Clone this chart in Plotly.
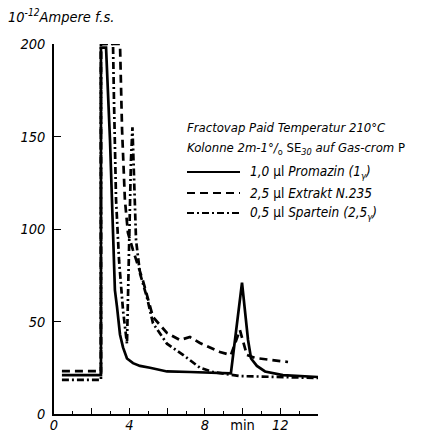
import plotly.graph_objects as go

# ---- data (time in min, signal in 10^-12 A) ----
promazin_t = [0.42, 2.49, 2.49, 2.76, 2.97, 3.13, 3.23, 3.34, 3.50, 3.66, 3.87, 4.19, 4.56, 5.09, 5.99, 7.21, 8.80, 9.38, 9.97, 10.29, 10.45, 10.76, 11.19, 12.14, 14.0]
promazin_y = [21, 21, 198, 198, 148, 94, 67, 58, 43, 36, 30, 27.5, 26, 25, 23, 22.7, 22.2, 22, 71, 40, 30, 26, 23, 21, 20]

extrakt_t = [0.42, 2.49, 2.49, 3.50, 3.61, 3.76, 3.92, 4.19, 4.72, 5.25, 5.99, 6.68, 7.21, 7.74, 8.80, 9.38, 9.86, 10.23, 10.66, 12.41]
extrakt_y = [23.2, 23.2, 200, 200, 153.5, 115.7, 98, 88.6, 72, 52.4, 43.8, 40, 41.6, 38.4, 33.5, 31.9, 45.4, 31.9, 30.3, 28.1]

spartein_t = [0.42, 2.49, 2.49, 3.13, 3.18, 3.29, 3.45, 3.66, 3.87, 3.98, 4.08, 4.16, 4.24, 4.35, 4.56, 4.93, 5.25, 5.99, 6.84, 7.74, 8.43, 9.86, 14.0]
spartein_y = [18.4, 18.4, 200, 200, 170, 116, 83, 56, 38, 89, 137, 155, 126, 94, 76, 63, 49, 38, 32, 25, 22.7, 20.5, 19.5]

x_tickvals = [0, 2, 4, 6, 8, 10, 12, 14]
x_ticktext = ["0", "", "4", "", "8", "<span style='font-style:normal'>min</span>", "12", ""]
y_tickvals = [0, 50, 100, 150, 200]
y_ticktext = ["0", "50", "100", "150", "200"]

legend_labels = ["<i>1,0</i> µl <i>Promazin (1<sub>γ</sub>)</i>",
                 "<i>2,5</i> µl <i>Extrakt N.235</i>",
                 "<i>0,5</i> µl <i>Spartein (2,5<sub>γ</sub>)</i>"]
legend_dash = ["solid", "8px,5px", "7px,3px,2px,3px"]

FONT = "DejaVu Sans Condensed, DejaVu Sans, sans-serif"

fig = go.Figure()
for t, y, d in [(promazin_t, promazin_y, "solid"),
                (extrakt_t, extrakt_y, "8px,5px"),
                (spartein_t, spartein_y, "7px,3px,2px,3px")]:
    fig.add_trace(go.Scatter(x=t, y=y, mode="lines", showlegend=False,
                             line=dict(color="black", width=2.7, dash=d),
                             cliponaxis=False))

W, H = 432, 434
OFF = 8  # page body margin
PL, PR, PT, PB = 54, 318, 44, 414  # plot area in page pixels
pw, ph = PR - PL, PB - PT
L, T = PL - OFF, PT - OFF
R, B = W - L - pw, H - T - ph

def px(xp):
    return (xp - PL) / pw

def py(yp):
    return (PB - yp) / ph

shapes = []
annotations = []
ys = [172, 193, 213]
for i, (lab, d) in enumerate(zip(legend_labels, legend_dash)):
    shapes.append(dict(type="line", xref="paper", yref="paper",
                       x0=px(187), x1=px(240), y0=py(ys[i]), y1=py(ys[i]),
                       line=dict(color="black", width=2.2, dash=d)))
    annotations.append(dict(xref="paper", yref="paper", x=px(248), y=py(ys[i]),
                            xanchor="left", yanchor="middle", showarrow=False,
                            text=lab, font=dict(family=FONT, size=13.5, color="black")))

annotations.append(dict(xref="paper", yref="paper", x=px(185), y=py(127),
                        xanchor="left", yanchor="middle", showarrow=False,
                        text="<i>Fractovap Paid Temperatur 210°C</i>",
                        font=dict(family=FONT, size=13, color="black")))
annotations.append(dict(xref="paper", yref="paper", x=px(185), y=py(148),
                        xanchor="left", yanchor="middle", showarrow=False,
                        text="<i>Kolonne 2m-1°/</i><sub>o</sub> SE<sub><i>30</i></sub><i> auf Gas-crom</i> P",
                        font=dict(family=FONT, size=13, color="black")))
annotations.append(dict(xref="paper", yref="paper", x=px(6), y=py(16),
                        xanchor="left", yanchor="middle", showarrow=False,
                        text="<i>10<sup>-12</sup>Ampere f.s.</i>",
                        font=dict(family=FONT, size=14.5, color="black")))

fig.update_layout(
    width=W, height=H,
    margin=dict(l=L, r=R, t=T, b=B, pad=0, autoexpand=False),
    paper_bgcolor="white", plot_bgcolor="white",
    shapes=shapes, annotations=annotations,
    xaxis=dict(range=[0, 14], showgrid=False, zeroline=False, automargin=False,
               showline=True, linecolor="black", linewidth=1.6,
               ticks="inside", ticklen=6, tickwidth=1.4, tickcolor="black",
               tickvals=x_tickvals, ticktext=x_ticktext, ticklabelstandoff=-3,
               minor=dict(ticks="inside", ticklen=3, tickwidth=1, tickcolor="black", dtick=1, showgrid=False),
               tickfont=dict(family=FONT, size=14.5, color="black", style="italic")),
    yaxis=dict(range=[0, 200], showgrid=False, zeroline=False, automargin=False,
               showline=True, linecolor="black", linewidth=1.6,
               ticks="inside", ticklen=7, tickwidth=1.4, tickcolor="black",
               tickvals=y_tickvals, ticktext=y_ticktext, ticklabelstandoff=4,
               tickfont=dict(family=FONT, size=14.5, color="black", style="italic")),
)

fig.write_html("out.html")
